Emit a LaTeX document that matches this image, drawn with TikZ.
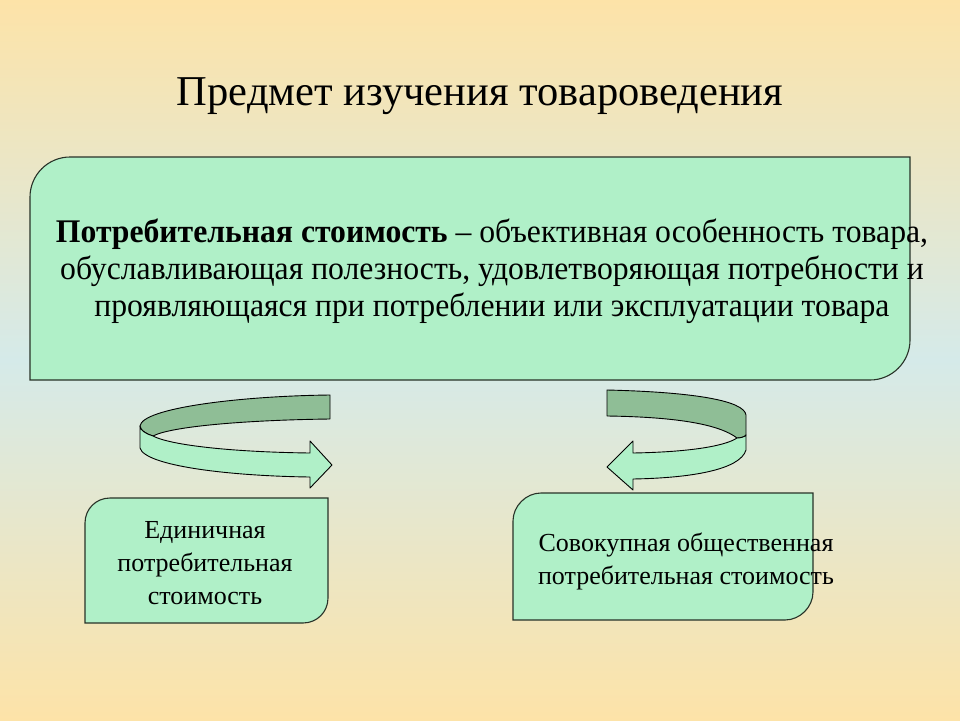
\documentclass[tikz,border=0pt]{standalone}
\usepackage{fontspec}
\setmainfont{Liberation Serif}
\newfontfamily\narrowfont[FakeStretch=0.96]{Liberation Serif}
\usepackage{tikz}

\definecolor{mint}{RGB}{176,240,200}
\definecolor{darkmint}{RGB}{143,190,150}
\definecolor{rim}{RGB}{40,50,40}
\definecolor{sand}{RGB}{253,227,168}
\definecolor{sky}{RGB}{213,234,233}

\tikzset{
	box/.style={draw=rim, fill=mint, line width=1.1pt},
	backband/.style={draw=black, fill=darkmint, line width=0.9pt, line join=round},
	frontband/.style={draw=black, fill=mint, line width=0.9pt, line join=round},
	boxtext/.style={align=center, font=\fontsize{26}{33}\selectfont}
}

\begin{document}
\begin{tikzpicture}[x=1pt,y=-1pt]
	
	% background
	\path[top color=sand, bottom color=sand, middle color=sky] (0,0) rectangle (960,720);
	\useasboundingbox (0,0) rectangle (960,720);
	
	\node[font=\fontsize{42.5}{50}\selectfont] (title) at (480,96) {Предмет изучения товароведения};
	
	% big box
	\draw[box] (30,380) -- (30,197) .. controls (30,175) and (48,157) .. (70,157)
		-- (910,157) -- (910,340) .. controls (910,362) and (892,380) .. (870,380) -- cycle;
	\node[align=center, font=\narrowfont\fontsize{33}{37}\selectfont] (def) at (492,271)
		{\textbf{Потребительная стоимость} – объективная особенность товара,\\
		обуславливающая полезность, удовлетворяющая потребности и\\
		проявляющаяся при потреблении или эксплуатации товара};
	
	% left circular arrow
	\draw[backband] (330,395) -- (330,419) .. controls (250,420) and (172,426) .. (153,436)
		.. controls (146,434) and (140,430) .. (140,426)
		.. controls (142,408) and (240,396) .. cycle;
	\draw[frontband] (140,426) -- (140,448) .. controls (145,466) and (230,476) .. (310,477)
		-- (310,488) -- (332,465) -- (310,441) -- (310,453)
		.. controls (230,452) and (170,445) .. (153,436)
		.. controls (146,434) and (140,430) .. cycle;
	
	% right circular arrow
	\draw[backband] (607,390) .. controls (690,392) and (744,400) .. (746,415) -- (746,435)
		.. controls (745,437) and (740,438) .. (737,438)
		.. controls (720,425) and (680,417) .. (607,416) -- cycle;
	\draw[frontband] (746,435) -- (746,450) .. controls (740,470) and (690,478) .. (633,479)
		-- (633,490) -- (607,467) -- (633,441) -- (633,453)
		.. controls (690,452) and (725,446) .. (737,438)
		.. controls (740,438) and (745,437) .. cycle;
	
	% small boxes
	\draw[box] (85,623) -- (85,523) .. controls (85,509) and (96,498) .. (110,498)
		-- (328,498) -- (328,598) .. controls (328,612) and (317,623) .. (303,623) -- cycle;
	\node[boxtext] (single) at (205,563) {Единичная\\ потребительная\\ стоимость};
	
	\draw[box] (513,620) -- (513,521) .. controls (513,506) and (526,493) .. (541,493)
		-- (813,493) -- (813,592) .. controls (813,607) and (800,620) .. (785,620) -- cycle;
	\node[boxtext] (total) at (686,561) {Совокупная общественная\\ потребительная стоимость};
	
\end{tikzpicture}
\end{document}
